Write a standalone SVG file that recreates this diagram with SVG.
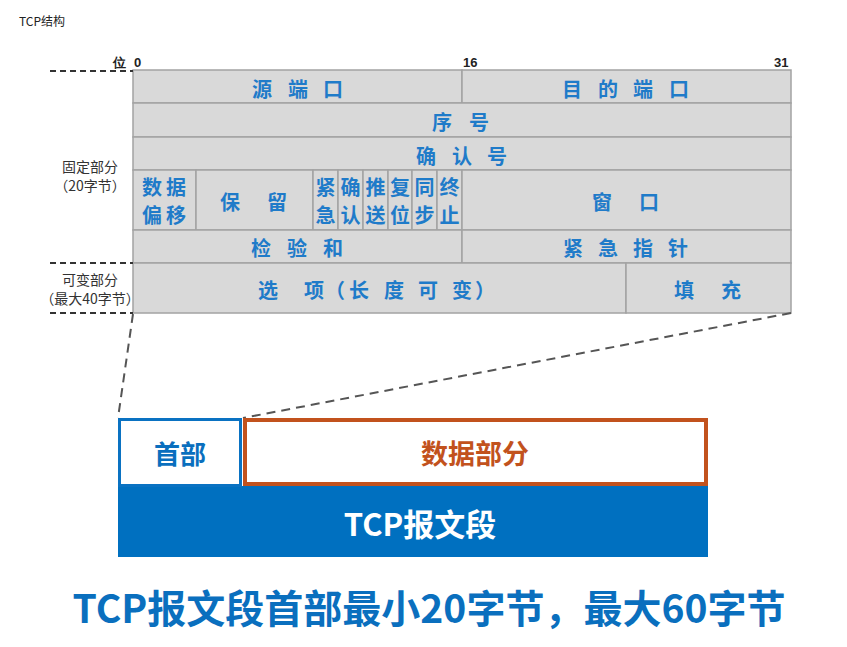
<svg xmlns="http://www.w3.org/2000/svg" width="847" height="647" viewBox="0 0 847 647">
<style>
.cell{fill:#d9d9d9;stroke:#a3a3a3;stroke-width:1.5}
.t{font-family:"Noto Sans CJK SC","Noto Sans",sans-serif;font-size:20px;font-weight:bold;fill:#1f7bc9;text-anchor:middle;dominant-baseline:central}
.f{font-family:"Noto Sans CJK SC","Noto Sans",sans-serif;font-size:20px;font-weight:bold;fill:#1f7bc9;text-anchor:middle;dominant-baseline:central}
.side{font-family:"Noto Sans CJK SC","Noto Sans",sans-serif;font-size:14px;fill:#333;text-anchor:middle;dominant-baseline:central}
.num{font-family:"Liberation Sans",Arial,sans-serif;font-size:13px;font-weight:bold;fill:#222}
.dash{stroke:#333;stroke-width:2;stroke-dasharray:6,4;fill:none}
.conn{stroke:#555;stroke-width:2;stroke-dasharray:9,6;fill:none}
.big{font-family:"Noto Sans CJK SC",sans-serif;font-weight:bold;text-anchor:middle;dominant-baseline:central}
</style>
<rect width="847" height="647" fill="#fff"/>
<text x="19" y="26" font-family="Noto Sans CJK SC,sans-serif" font-size="12" fill="#222">TCP结构</text>

<g id="header-table">
<rect class="cell" x="133" y="70" width="329" height="33"/>
<rect class="cell" x="462" y="70" width="329" height="33"/>
<rect class="cell" x="133" y="103" width="658" height="34"/>
<rect class="cell" x="133" y="137" width="658" height="33"/>
<rect class="cell" x="133" y="170" width="63" height="60"/>
<rect class="cell" x="196" y="170" width="117" height="60"/>
<rect class="cell" x="313" y="170" width="25" height="60"/>
<rect class="cell" x="338" y="170" width="25" height="60"/>
<rect class="cell" x="363" y="170" width="25" height="60"/>
<rect class="cell" x="388" y="170" width="24" height="60"/>
<rect class="cell" x="412" y="170" width="25" height="60"/>
<rect class="cell" x="437" y="170" width="25" height="60"/>
<rect class="cell" x="462" y="170" width="329" height="60"/>
<rect class="cell" x="133" y="230" width="329" height="33"/>
<rect class="cell" x="462" y="230" width="329" height="33"/>
<rect class="cell" x="133" y="263" width="493" height="50"/>
<rect class="cell" x="626" y="263" width="165" height="50"/>

<text class="t" x="262 298 333" y="88">源端口</text>
<text class="t" x="572 608 643 679" y="88">目的端口</text>
<text class="t" x="442 479" y="121">序号</text>
<text class="t" x="426 462 497" y="155">确认号</text>
<text class="f" x="152 176" y="186">数据</text>
<text class="f" x="152 176" y="214">偏移</text>
<text class="t" x="230 277" y="201">保留</text>
<text class="f" x="325.5 350.5 375.5 400 424.5 449.5" y="186">紧确推复同终</text>
<text class="f" x="325.5 350.5 375.5 400 424.5 449.5" y="214">急认送位步止</text>
<text class="t" x="602 649" y="201">窗口</text>
<text class="t" x="261 297 333" y="247">检验和</text>
<text class="t" x="573 608 643 678" y="247">紧急指针</text>
<text class="t" x="268 314 335 359 394 428 462 485" y="289">选项（长度可变）</text>
<text class="t" x="684 731" y="289">填充</text>

<text class="num" x="113" y="67" font-family="Noto Sans CJK SC,sans-serif">位</text>
<text class="num" x="134" y="67">0</text>
<text class="num" x="463" y="67">16</text>
<text class="num" x="774" y="67">31</text>

<text class="side" x="90" y="166">固定部分</text>
<text class="side" x="90" y="185">（20字节）</text>
<text class="side" x="90" y="279">可变部分</text>
<text class="side" x="90" y="298">（最大40字节）</text>
</g>

<g id="connectors">
<line class="dash" x1="50" y1="71" x2="133" y2="71"/>
<line class="dash" x1="50" y1="263" x2="133" y2="263"/>
<line class="dash" x1="50" y1="313" x2="133" y2="313"/>
<line class="conn" x1="133" y1="314" x2="118" y2="418"/>
<line class="conn" x1="791" y1="313" x2="243" y2="418"/>
</g>

<g id="segment">
<rect x="118" y="486" width="590" height="71" fill="#0070c0"/>
<rect x="119.5" y="419.5" width="121" height="66" fill="#fff" stroke="#0a72c2" stroke-width="3"/>
<rect x="245" y="420" width="461" height="64" fill="#fff" stroke="#c2521d" stroke-width="4"/>
<text class="big" x="180" y="452" font-size="26" fill="#0a6fbe">首部</text>
<text class="big" x="475" y="452" font-size="27" fill="#c2521d">数据部分</text>
<text class="big" x="420" y="522" font-size="31" fill="#fff">TCP报文段</text>
</g>

<text class="big" x="429" y="606" font-size="39" fill="#0a6fbe">TCP报文段首部最小20字节，最大60字节</text>
</svg>
